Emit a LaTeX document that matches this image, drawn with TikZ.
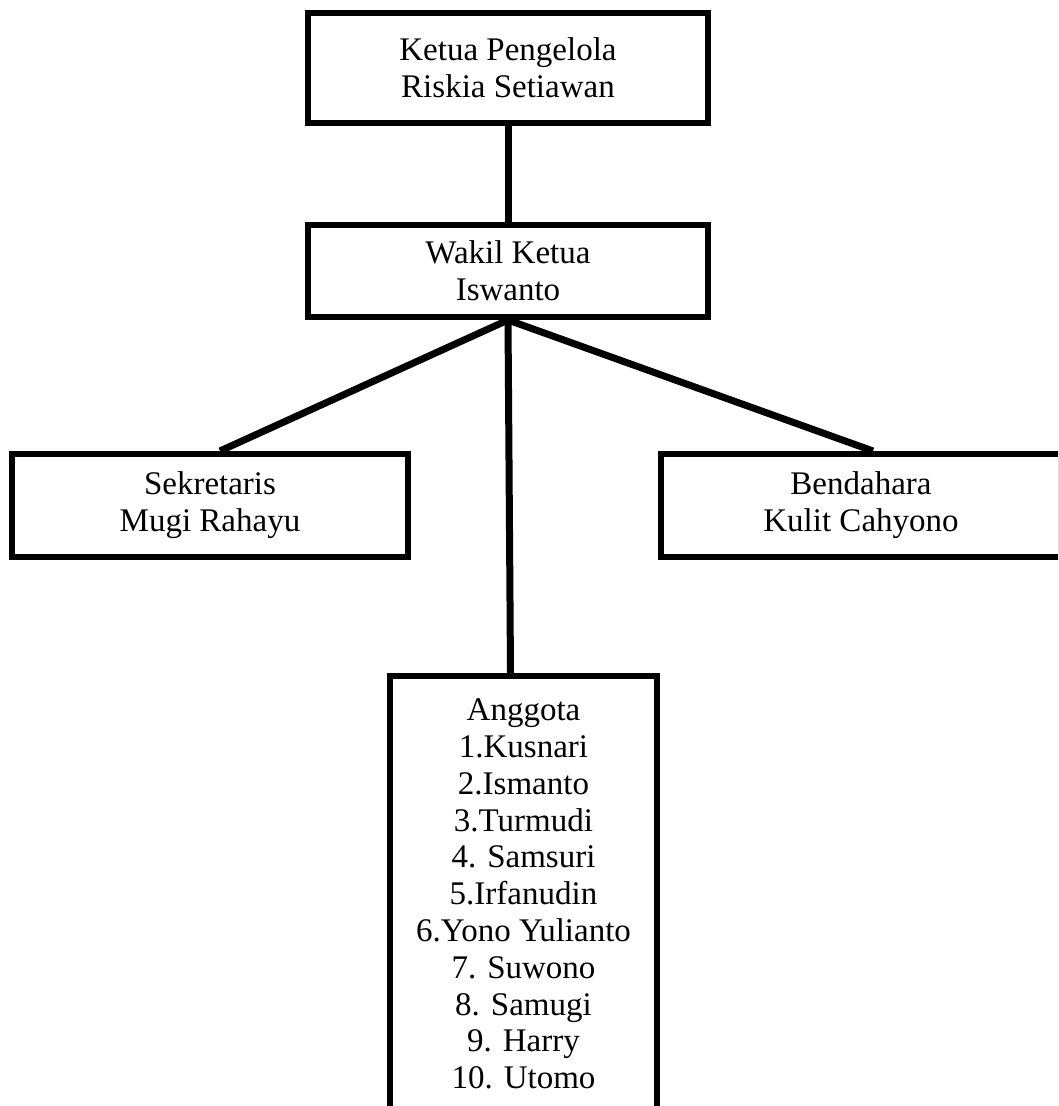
\documentclass[tikz,border=0pt]{standalone}
\usepackage{fontspec}
\setmainfont{Liberation Serif}
\begin{document}
\begin{tikzpicture}[x=0.5pt,y=-0.5pt]

        \useasboundingbox (0,0) rectangle (1058,1106);
        \clip (0,0) rectangle (1058,1106);

        \begin{scope}[every node/.style={rectangle,draw,line width=3pt,align=center,
            inner sep=0pt,font=\fontsize{16.5}{18.4}\selectfont}]
          \node[minimum width=200pt,minimum height=55pt] (ketua) at (508,68)
            {Ketua Pengelola\\Riskia Setiawan};
          \node[minimum width=200pt,minimum height=46pt] (wakil) at (508,271)
            {Wakil Ketua\\Iswanto};
          \node[minimum width=198pt,minimum height=51.5pt] (sekretaris) at (210,505.5)
            {Sekretaris\\Mugi Rahayu};
          \node[minimum width=200pt,minimum height=51.5pt] (bendahara) at (861,505.5)
            {Bendahara\\Kulit Cahyono};
          \node[minimum width=133.5pt,minimum height=218pt] (anggota) at (523.5,894)
            {Anggota\\1.Kusnari\\2.Ismanto\\3.Turmudi\\4. Samsuri\\5.Irfanudin\\
             6.Yono Yulianto\\7. Suwono\\8. Samugi\\9. Harry\\10. Utomo};
        \end{scope}

        \begin{scope}[every edge/.style={draw,line width=3.5pt}]
          \path (ketua.south) edge (wakil.north);
          \path (wakil.south) edge ([xshift=5pt]sekretaris.north);
          \path (wakil.south) edge ([xshift=6pt]bendahara.north);
          \path (wakil.south) edge ([xshift=-6.5pt]anggota.north);
        \end{scope}

      \end{tikzpicture}
\end{document}
